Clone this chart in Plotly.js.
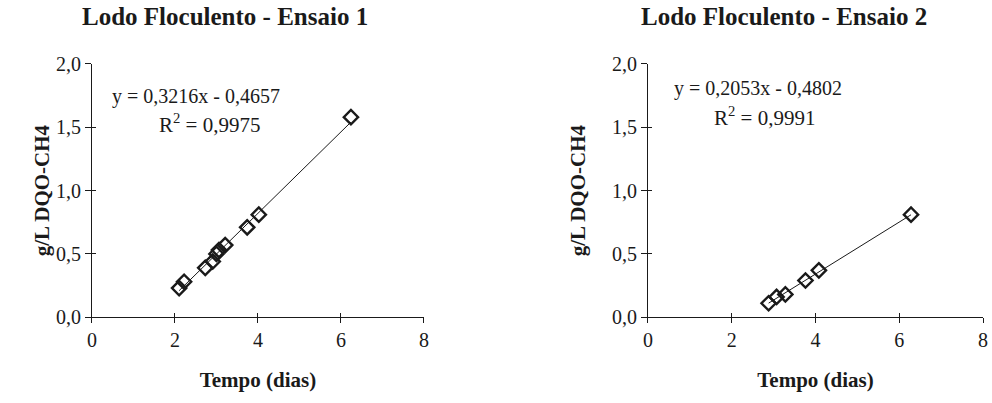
<!DOCTYPE html>
<html>
<head>
<meta charset="utf-8">
<script src="https://cdn.plot.ly/plotly-3.0.1.min.js"></script>
<style>html,body{margin:0;padding:0;background:#fff;}#chart{width:992px;height:403px;}</style>
</head>
<body>
<div id="chart"></div>
<script>
// Data
const titles = ["Lodo Floculento - Ensaio 1", "Lodo Floculento - Ensaio 2"];
const x1 = [2.10, 2.22, 2.73, 2.91, 3.00, 3.06, 3.21, 3.74, 4.02, 6.24];
const y1 = [0.23, 0.28, 0.39, 0.44, 0.50, 0.53, 0.57, 0.71, 0.81, 1.58];
const x2 = [2.88, 3.07, 3.28, 3.76, 4.08, 6.28];
const y2 = [0.11, 0.16, 0.18, 0.29, 0.37, 0.81];
const slopes = [0.3216, 0.2053];
const intercepts = [-0.4657, -0.4802];
const r2 = ["0,9975", "0,9991"];
const eqText = ["y = 0,3216x - 0,4657", "y = 0,2053x - 0,4802"];
const xTicks = [0, 2, 4, 6, 8];
const yTicks = [0, 0.5, 1.0, 1.5, 2.0];
const yTickText = ["0,0", "0,5", "1,0", "1,5", "2,0"];

const FONT = "Liberation Serif, Times New Roman, serif";
const INK = "#1a1a1a";

function fitLine(xs, k) {
  const xmin = Math.min(...xs), xmax = Math.max(...xs);
  return {x: [xmin, xmax], y: [slopes[k]*xmin + intercepts[k], slopes[k]*xmax + intercepts[k]]};
}
const f1 = fitLine(x1, 0), f2 = fitLine(x2, 1);

const mk = {symbol: "diamond-open", size: 11, color: INK, line: {width: 2.4, color: INK}};
const traces = [
  {x: f1.x, y: f1.y, mode: "lines", line: {color: INK, width: 1}, xaxis: "x", yaxis: "y", hoverinfo: "skip"},
  {x: x1, y: y1, mode: "markers", marker: mk, xaxis: "x", yaxis: "y"},
  {x: f2.x, y: f2.y, mode: "lines", line: {color: INK, width: 1}, xaxis: "x2", yaxis: "y2", hoverinfo: "skip"},
  {x: x2, y: y2, mode: "markers", marker: mk, xaxis: "x2", yaxis: "y2"}
];

function xax(domain, anchor, title) {
  return {
    domain: domain, anchor: anchor, range: [0, 8], tickvals: xTicks, ticktext: xTicks.map(String),
    showgrid: false, zeroline: false, showline: true, linecolor: INK, linewidth: 1,
    ticks: "outside", ticklen: 5, tickcolor: INK, tickwidth: 1,
    tickfont: {family: FONT, size: 20, color: INK},
    title: {text: "<b>" + title + "</b>", font: {family: FONT, size: 21, color: INK}, standoff: 22}
  };
}
function yax(domain, anchor, standoff) {
  return {
    domain: domain, anchor: anchor, range: [0, 2], tickvals: yTicks, ticktext: yTickText,
    showgrid: false, zeroline: false, showline: true, linecolor: INK, linewidth: 1,
    ticks: "outside", ticklen: 6, tickcolor: INK, tickwidth: 1,
    tickfont: {family: FONT, size: 20, color: INK},
    title: {text: "<b>g/L DQO-CH4</b>", font: {family: FONT, size: 21, color: INK}, standoff: standoff}
  };
}
function overlayX(over, anchor, domain) {
  return {overlaying: over, anchor: anchor, domain: domain, range: [0, 8], tickvals: xTicks, showticklabels: false,
    showgrid: false, zeroline: false, showline: false, ticks: "inside", ticklen: 4, tickcolor: INK, tickwidth: 1};
}
function overlayY(over, anchor, domain) {
  return {overlaying: over, anchor: anchor, domain: domain, range: [0, 2], tickvals: yTicks, showticklabels: false,
    showgrid: false, zeroline: false, showline: false, ticks: "inside", ticklen: 4, tickcolor: INK, tickwidth: 1};
}

const dxL = [0.0927, 0.4274], dxR = [0.6532, 0.991], dy = [0.2129, 0.8412];

// invisible traces to pin overlay axes
traces.push({x: [0], y: [0], mode: "markers", marker: {opacity: 0}, xaxis: "x3", yaxis: "y3", hoverinfo: "skip"});
traces.push({x: [0], y: [0], mode: "markers", marker: {opacity: 0}, xaxis: "x4", yaxis: "y4", hoverinfo: "skip"});

const layout = {
  width: 992, height: 403,
  margin: {l: 0, r: 0, t: 0, b: 0},
  paper_bgcolor: "#fff", plot_bgcolor: "#fff",
  showlegend: false,
  separators: ",.",
  xaxis: xax(dxL, "y", "Tempo (dias)"),
  yaxis: yax(dy, "x", 0),
  xaxis2: xax(dxR, "y2", "Tempo (dias)"),
  yaxis2: yax(dy, "x2", 20),
  xaxis3: overlayX("x", "y3", dxL),
  yaxis3: overlayY("y", "x3", dy),
  xaxis4: overlayX("x2", "y4", dxR),
  yaxis4: overlayY("y2", "x4", dy),
  annotations: [
    {text: "<b>" + titles[0] + "</b>", xref: "paper", yref: "paper", x: 225/992, y: 1 - 17/403, showarrow: false,
     font: {family: FONT, size: 25, color: INK}, xanchor: "center", yanchor: "middle"},
    {text: "<b>" + titles[1] + "</b>", xref: "paper", yref: "paper", x: 784/992, y: 1 - 17/403, showarrow: false,
     font: {family: FONT, size: 25, color: INK}, xanchor: "center", yanchor: "middle"},
    {text: eqText[0], xref: "paper", yref: "paper", x: 196/992, y: 1 - 96/403, showarrow: false,
     font: {family: FONT, size: 20, color: INK}, xanchor: "center", yanchor: "middle"},
    {text: "R<sup>2</sup> = " + r2[0], xref: "paper", yref: "paper", x: 209/992, y: 1 - 123/403, showarrow: false,
     font: {family: FONT, size: 21, color: INK}, xanchor: "center", yanchor: "middle"},
    {text: eqText[1], xref: "paper", yref: "paper", x: 758/992, y: 1 - 88/403, showarrow: false,
     font: {family: FONT, size: 20, color: INK}, xanchor: "center", yanchor: "middle"},
    {text: "R<sup>2</sup> = " + r2[1], xref: "paper", yref: "paper", x: 764/992, y: 1 - 117/403, showarrow: false,
     font: {family: FONT, size: 21, color: INK}, xanchor: "center", yanchor: "middle"}
  ]
};

Plotly.newPlot("chart", traces, layout, {staticPlot: true, displayModeBar: false});
</script>
</body>
</html>
